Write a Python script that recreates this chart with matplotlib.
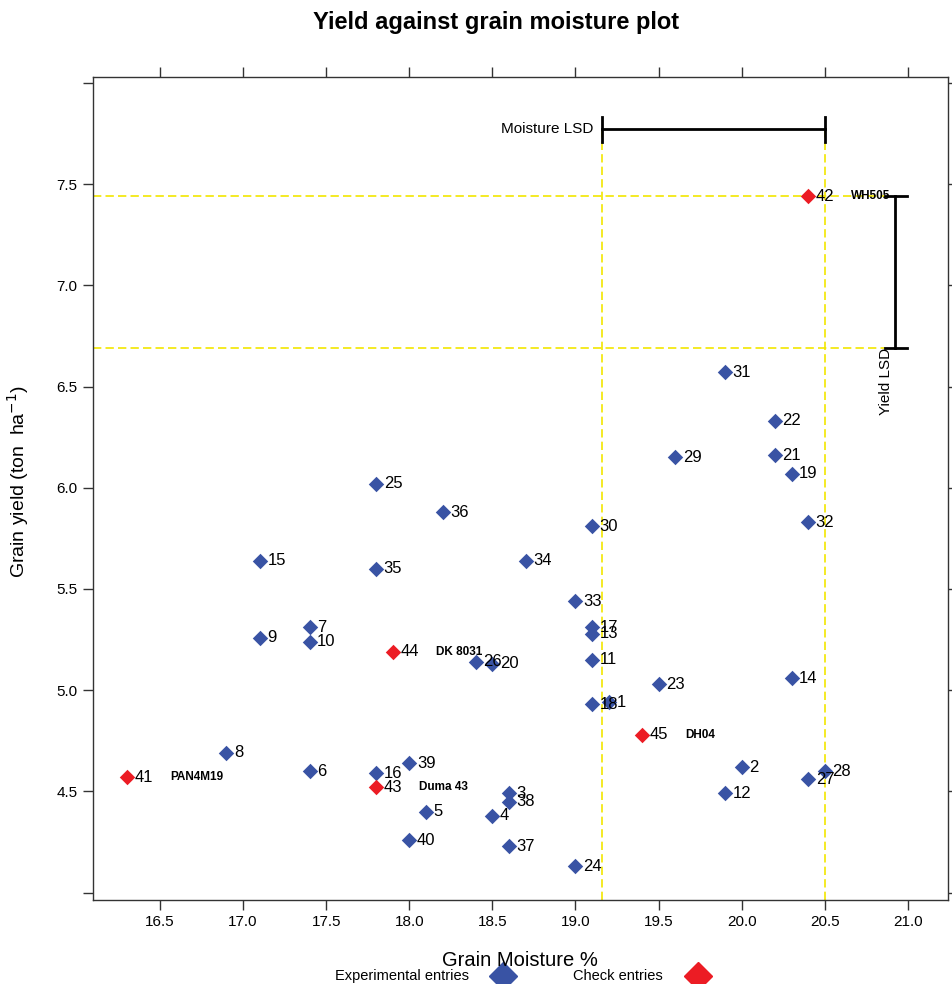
import matplotlib
matplotlib.use("Agg")
import matplotlib.pyplot as plt

plt.rcParams['font.family'] = ['Liberation Sans', 'DejaVu Sans']

# entries 1-40 are experimental, 41-45 are checks
entry = list(range(1, 46))
moisture = [19.2, 20.0, 18.6, 18.5, 18.1, 17.4, 17.4, 16.9, 17.1, 17.4,
            19.1, 19.9, 19.1, 20.3, 17.1, 17.8, 19.1, 19.1, 20.3, 18.5,
            20.2, 20.2, 19.5, 19.0, 17.8, 18.4, 20.4, 20.5, 19.6, 19.1,
            19.9, 20.4, 19.0, 18.7, 17.8, 18.2, 18.6, 18.6, 18.0, 18.0,
            16.3, 20.4, 17.8, 17.9, 19.4]
yield_t = [4.94, 4.62, 4.49, 4.38, 4.40, 4.60, 5.31, 4.69, 5.26, 5.24,
           5.15, 4.49, 5.28, 5.06, 5.64, 4.59, 5.31, 4.93, 6.07, 5.13,
           6.16, 6.33, 5.03, 4.13, 6.02, 5.14, 4.56, 4.60, 6.15, 5.81,
           6.57, 5.83, 5.44, 5.64, 5.60, 5.88, 4.23, 4.45, 4.64, 4.26,
           4.57, 7.44, 4.52, 5.19, 4.78]
n_exp = 40
check_names = ['PAN4M19', 'WH505', 'Duma 43', 'DK 8031', 'DH04']

moisture_lsd = 1.34
yield_lsd = 0.75

x_ticks = [16.5, 17.0, 17.5, 18.0, 18.5, 19.0, 19.5, 20.0, 20.5, 21.0]
y_ticks = [4.0, 4.5, 5.0, 5.5, 6.0, 6.5, 7.0, 7.5, 8.0]
y_tick_labels = ['', '4.5', '5.0', '5.5', '6.0', '6.5', '7.0', '7.5', '']

blue = '#3953a4'
red = '#ec1c24'
yellow = '#f2e600'
frame = '#333333'

fig = plt.figure(figsize=(9.52, 9.84), dpi=100)
ax = fig.add_axes([0.0974, 0.0854, 0.8981, 0.836])
ax.set_xlim(16.095, 21.24)
ax.set_ylim(3.964, 8.027)

max_m = max(moisture)
max_y = max(yield_t)
bar_y = 7.77
bar_x = 20.92

# reference lines
for yv in [max_y, max_y - yield_lsd]:
    ax.plot([16.095, 20.86], [yv, yv], color=yellow, lw=1.2,
            dashes=(5, 2.5), zorder=1)
for xv in [max_m, max_m - moisture_lsd]:
    ax.plot([xv, xv], [3.964, bar_y], color=yellow, lw=1.2,
            dashes=(5, 2.5), zorder=1)

# LSD bars
ax.plot([max_m - moisture_lsd, max_m], [bar_y, bar_y], color='black', lw=2)
for xv in [max_m - moisture_lsd, max_m]:
    ax.plot([xv, xv], [bar_y - 0.062, bar_y + 0.062], color='black', lw=2)
ax.text(max_m - moisture_lsd - 0.05, bar_y, 'Moisture LSD', ha='right',
        va='center', fontsize=11)

ax.plot([bar_x, bar_x], [max_y - yield_lsd, max_y], color='black', lw=2)
for yv in [max_y - yield_lsd, max_y]:
    ax.plot([20.86, 20.995], [yv, yv], color='black', lw=2)
ax.text(20.87, max_y - yield_lsd, 'Yield LSD', rotation=90, ha='center',
        va='top', fontsize=11)

# points
ax.scatter(moisture[:n_exp], yield_t[:n_exp], marker='D', s=62, color=blue,
           linewidths=0, zorder=3)
ax.scatter(moisture[n_exp:], yield_t[n_exp:], marker='D', s=62, color=red,
           linewidths=0, zorder=3)

for i, (mx, yv) in enumerate(zip(moisture, yield_t)):
    ax.annotate(str(entry[i]), (mx, yv), xytext=(5.5, 0),
                textcoords='offset points', ha='left', va='center',
                fontsize=12, zorder=4)

for name, mx, yv in zip(check_names, moisture[n_exp:], yield_t[n_exp:]):
    ax.text(mx + 0.26, yv, name, ha='left', va='center', fontsize=8.5,
            fontweight='bold', zorder=4)

ax.set_xticks(x_ticks)
ax.set_xticklabels([f'{v:.1f}' for v in x_ticks])
ax.set_yticks(y_ticks)
ax.set_yticklabels(y_tick_labels)
ax.tick_params(direction='out', length=7, width=1, color=frame,
               labelsize=11, top=True, right=True, pad=4)
for s in ax.spines.values():
    s.set_color(frame)
    s.set_linewidth(1)

fig.text(0.521, 0.977, 'Yield against grain moisture plot', ha='center',
         va='center', fontsize=17, fontweight='bold')
fig.text(0.546, 1 - 961 / 984, 'Grain Moisture %', ha='center',
         va='center', fontsize=14.5)
fig.text(18 / 952, 1 - 482 / 984, 'Grain yield (ton  ha$^{-1}$)',
         rotation=90, ha='center', va='center', fontsize=14)

# legend under the x label
leg_y = 1 - 976 / 984
fig.text(469 / 952, leg_y, 'Experimental entries', ha='right', va='center',
         fontsize=10.5)
fig.text(663 / 952, leg_y, 'Check entries', ha='right', va='center',
         fontsize=10.5)
ax.plot([503 / 952], [leg_y], marker='D', ms=14, color=blue, lw=0,
        transform=fig.transFigure, clip_on=False)
ax.plot([698 / 952], [leg_y], marker='D', ms=14, color=red, lw=0,
        transform=fig.transFigure, clip_on=False)

fig.savefig('out.png', dpi=100)
